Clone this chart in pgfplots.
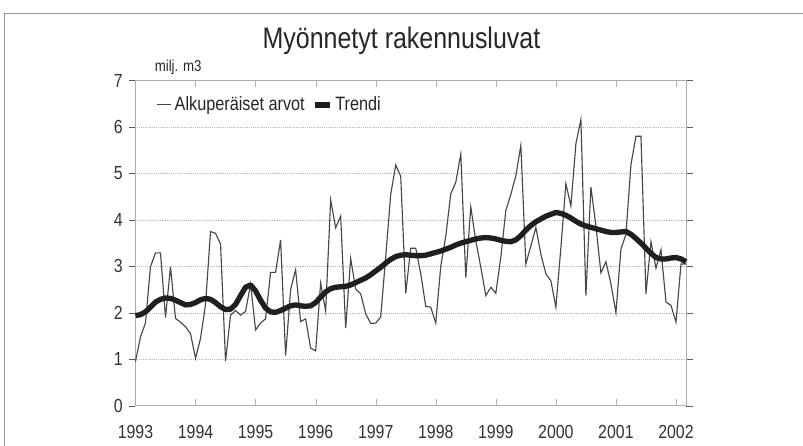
\documentclass[border=0pt]{standalone}
\usepackage{fontspec}
\setmainfont{Liberation Sans}[FakeStretch=0.84]
\usepackage{pgfplots}
\pgfplotsset{compat=1.18}
\usepackage{pgfplotstable}

% kuukausi (0 = tammikuu 1993), alkuperäiset arvot, trendi
\pgfplotstableread{
m orig trend
0 0.95 1.94
1 1.48 1.96
2 1.78 2.02
3 2.99 2.12
4 3.29 2.23
5 3.29 2.29
6 1.90 2.32
7 2.99 2.31
8 1.88 2.27
9 1.80 2.22
10 1.70 2.17
11 1.55 2.18
12 1.02 2.22
13 1.45 2.28
14 2.18 2.31
15 3.75 2.29
16 3.71 2.22
17 3.48 2.13
18 0.96 2.07
19 1.95 2.08
20 2.05 2.18
21 1.95 2.37
22 2.03 2.55
23 2.62 2.60
24 1.63 2.47
25 1.78 2.27
26 1.87 2.10
27 2.87 2.02
28 2.87 2.01
29 3.57 2.05
30 1.08 2.10
31 2.50 2.15
32 2.93 2.17
33 1.81 2.15
34 1.87 2.14
35 1.24 2.15
36 1.18 2.22
37 2.64 2.34
38 2.04 2.45
39 4.43 2.52
40 3.83 2.55
41 4.08 2.56
42 1.67 2.57
43 3.17 2.60
44 2.51 2.65
45 2.41 2.70
46 1.98 2.75
47 1.77 2.82
48 1.78 2.90
49 1.91 2.98
50 3.20 3.07
51 4.55 3.15
52 5.18 3.21
53 4.94 3.24
54 2.42 3.25
55 3.39 3.24
56 3.39 3.23
57 2.84 3.23
58 2.14 3.24
59 2.12 3.27
60 1.78 3.30
61 3.00 3.33
62 3.65 3.37
63 4.56 3.41
64 4.81 3.46
65 5.42 3.50
66 2.76 3.53
67 4.28 3.56
68 3.55 3.59
69 2.98 3.61
70 2.37 3.62
71 2.55 3.61
72 2.42 3.59
73 3.20 3.56
74 4.20 3.54
75 4.55 3.53
76 4.95 3.57
77 5.60 3.66
78 3.05 3.78
79 3.44 3.88
80 3.84 3.96
81 3.26 4.02
82 2.84 4.08
83 2.69 4.12
84 2.12 4.16
85 3.40 4.14
86 4.78 4.10
87 4.30 4.04
88 5.64 3.97
89 6.16 3.91
90 2.37 3.87
91 4.71 3.84
92 3.87 3.81
93 2.86 3.78
94 3.10 3.75
95 2.62 3.73
96 2.00 3.73
97 3.37 3.74
98 3.69 3.75
99 5.19 3.69
100 5.80 3.60
101 5.80 3.50
102 2.41 3.39
103 3.53 3.28
104 2.96 3.19
105 3.36 3.16
106 2.23 3.16
107 2.16 3.18
108 1.80 3.19
109 3.05 3.16
110 3.05 3.10
}\lupa

\begin{document}
\begin{tikzpicture}
\begin{axis}[name=ax, at={(0,0)}, anchor=south west,
  scale only axis, width=412.9pt, height=243.9pt,
  xmin=0, xmax=110, ymin=0, ymax=7,
  xtick={0,12,24,36,48,60,72,84,96,108},
  xticklabels={1993,1994,1995,1996,1997,1998,1999,2000,2001,2002},
  ytick={0,1,2,3,4,5,6,7},
  ymajorgrids, grid style={densely dotted, gray!55},
  axis line style={gray!65, line width=0.7pt},
  x axis line style={gray!70!black},
  major tick length=5pt,
  xtick style={gray!60},
  ytick style={gray!70!black},
  xtick align=inside, ytick align=outside,
  tick label style={font=\fontsize{14.2}{16}\selectfont, text=black!80},
  xticklabel style={yshift=-11pt},
  yticklabel style={xshift=-1pt},
  /pgf/number format/assume math mode=true,
  legend style={draw=none, fill=none, at={(rel axis cs:0.03,0.925)}, anchor=west,
    font=\fontsize{14.5}{16}\selectfont, text=black!85,
    /tikz/every even column/.append style={column sep=4pt}},
  legend columns=2,
  legend image code/.code={\draw[#1] (0pt,0pt) -- (11pt,0pt);},
  clip=false,
]
\addplot[draw=black!72, line width=0.85pt] table[x=m, y=orig] {\lupa};
\addlegendentry{Alkuperäiset arvot}
\addplot[draw=black!88, line width=4pt, line join=round] table[x=m, y=trend] {\lupa};
\addlegendentry{Trendi}
\end{axis}
\node[font=\fontsize{22.3}{24}\selectfont, text=black!85] at ([xshift=199.5pt, yshift=29.5pt]ax.north west) {Myönnetyt rakennusluvat};
\node[font=\fontsize{11.8}{13}\selectfont, text=black!85, anchor=west] at ([xshift=11pt, yshift=9.6pt]ax.north west) {milj. m3};
\draw[gray!80, line width=0.8pt] ([xshift=-97.9pt, yshift=-60pt]ax.south west) -- ([xshift=-97.9pt, yshift=50.6pt]ax.north west) -- ([xshift=120pt, yshift=50.6pt]ax.north east);
\pgfresetboundingbox
\useasboundingbox ([xshift=-101.6pt, yshift=-30.2pt]ax.south west) rectangle ([xshift=87.75pt, yshift=60.4pt]ax.north east);
\end{tikzpicture}
\end{document}
